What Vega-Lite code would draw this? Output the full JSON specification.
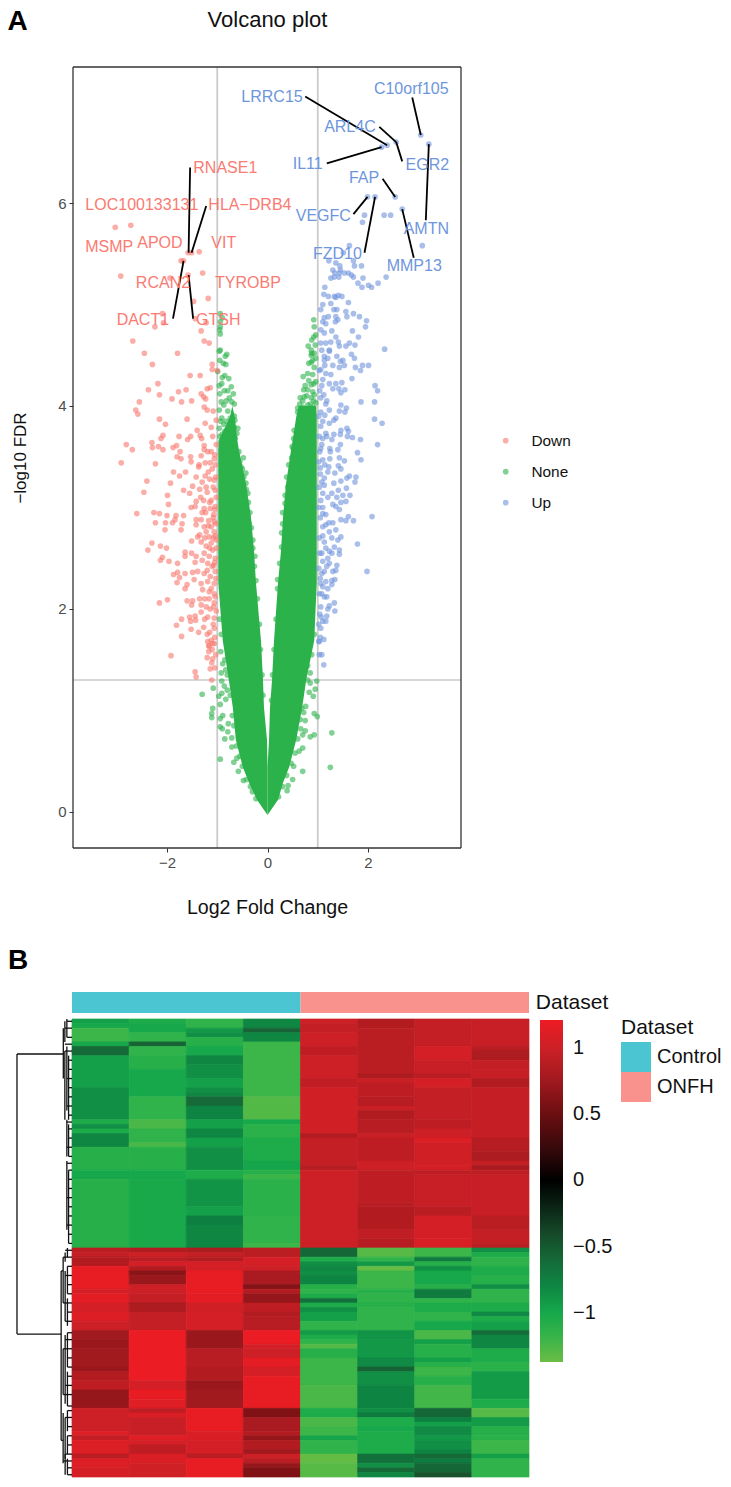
{"$schema":"https://vega.github.io/schema/vega-lite/v6.json","background":"white","padding":{"left":7,"top":8,"right":0,"bottom":0},"bounds":"flush","spacing":171,"config":{"font":"Liberation Sans","view":{"stroke":null},"legend":{"labelFont":"Liberation Sans","titleFont":"Liberation Sans"}},"datasets":{"core":[{"y":-0.03,"a":0,"b":0,"c":0,"d":0},{"y":0.12,"a":-0.21,"b":0,"c":0,"d":0.21},{"y":0.29,"a":-0.37,"b":0,"c":0,"d":0.31},{"y":0.44,"a":-0.49,"b":0,"c":0,"d":0.43},{"y":0.71,"a":-0.63,"b":-0.01,"c":0.03,"d":0.57},{"y":1.03,"a":-0.69,"b":-0.07,"c":0.05,"d":0.69},{"y":1.3,"a":-0.77,"b":-0.09,"c":0.09,"d":0.77},{"y":1.69,"a":-0.89,"b":-0.13,"c":0.13,"d":0.93},{"y":2.26,"a":-0.98,"b":-0.23,"c":0.21,"d":0.98},{"y":2.58,"a":-0.98,"b":-0.27,"c":0.27,"d":0.98},{"y":2.91,"a":-0.98,"b":-0.33,"c":0.31,"d":0.98},{"y":3.24,"a":-0.98,"b":-0.43,"c":0.37,"d":0.98},{"y":3.57,"a":-0.98,"b":-0.57,"c":0.47,"d":0.98},{"y":3.66,"a":-0.97,"b":-0.6,"c":0.5,"d":0.98},{"y":3.89,"a":-0.75,"b":-0.65,"c":0.57,"d":0.98},{"y":4.0,"a":-0.7,"b":-0.7,"c":0.62,"d":0.97}],"green":[{"x":-1.3,"y":1.16},{"x":-1.08,"y":1.22},{"x":-1.09,"y":1.02},{"x":-1.11,"y":0.97},{"x":-1.11,"y":0.93},{"x":-0.94,"y":1.06},{"x":-0.97,"y":1.14},{"x":-0.89,"y":0.95},{"x":-0.94,"y":0.92},{"x":-0.94,"y":0.84},{"x":-0.9,"y":0.82},{"x":-0.78,"y":0.87},{"x":-0.79,"y":0.79},{"x":-0.85,"y":0.72},{"x":-0.71,"y":0.73},{"x":-0.71,"y":0.64},{"x":-0.94,"y":0.52},{"x":-0.61,"y":0.53},{"x":-0.67,"y":0.49},{"x":-0.58,"y":0.4},{"x":-0.48,"y":0.31},{"x":-0.34,"y":0.25},{"x":-0.23,"y":0.13},{"x":1.28,"y":0.78},{"x":1.25,"y":0.44},{"x":0.93,"y":0.76},{"x":0.85,"y":0.74},{"x":0.75,"y":0.8},{"x":0.7,"y":0.76},{"x":0.7,"y":0.4},{"x":0.5,"y":0.32},{"x":0.41,"y":0.26},{"x":0.39,"y":0.21},{"x":0.95,"y":1.21},{"x":0.91,"y":1.14},{"x":0.76,"y":1.04},{"x":0.93,"y":0.97},{"x":0.99,"y":0.94},{"x":0.75,"y":0.9},{"x":0.65,"y":0.91},{"x":0.7,"y":0.63},{"x":0.63,"y":0.6},{"x":0.52,"y":0.45},{"x":0.98,"y":1.29},{"x":0.85,"y":1.27},{"x":0.85,"y":1.37},{"x":0.8,"y":1.44},{"x":-0.91,"y":1.29},{"x":-0.93,"y":1.58},{"x":-0.89,"y":1.46},{"x":-0.92,"y":1.37},{"x":-0.86,"y":1.24},{"x":-0.91,"y":1.17},{"x":-0.83,"y":1.11},{"x":-0.96,"y":4.54},{"x":-0.81,"y":4.51},{"x":-0.84,"y":4.49},{"x":-0.83,"y":4.41},{"x":-0.99,"y":4.34},{"x":-0.77,"y":4.27},{"x":-0.91,"y":4.22},{"x":-0.72,"y":4.19},{"x":-0.86,"y":4.15},{"x":-0.79,"y":4.15},{"x":-0.68,"y":4.12},{"x":-0.92,"y":4.04},{"x":-0.87,"y":4.01},{"x":-0.71,"y":4.04},{"x":-0.66,"y":4.02},{"x":-0.96,"y":3.96},{"x":-0.79,"y":3.95},{"x":-0.66,"y":3.9},{"x":-0.91,"y":3.88},{"x":-0.87,"y":3.82},{"x":-0.65,"y":3.86},{"x":-0.66,"y":3.79},{"x":-0.59,"y":3.78},{"x":-0.96,"y":3.78},{"x":-0.83,"y":3.71},{"x":-0.73,"y":3.74},{"x":-0.61,"y":3.73},{"x":-0.92,"y":3.65},{"x":-0.79,"y":3.67},{"x":-0.66,"y":3.63},{"x":-0.57,"y":3.55},{"x":-0.48,"y":3.49},{"x":-0.86,"y":3.57},{"x":-0.73,"y":3.57},{"x":-0.59,"y":3.47},{"x":-0.53,"y":3.4},{"x":-0.43,"y":3.34},{"x":-0.43,"y":3.24},{"x":-0.39,"y":3.14},{"x":-0.36,"y":2.84},{"x":-0.29,"y":2.68},{"x":-0.25,"y":2.52},{"x":-0.94,"y":4.91},{"x":-0.94,"y":4.83},{"x":-0.95,"y":4.75},{"x":-0.94,"y":4.71},{"x":-0.94,"y":4.55},{"x":-0.9,"y":4.87},{"x":-0.94,"y":4.78},{"x":0.93,"y":4.78},{"x":0.92,"y":4.68},{"x":0.81,"y":4.59},{"x":0.87,"y":4.55},{"x":0.93,"y":4.52},{"x":0.87,"y":4.5},{"x":0.96,"y":4.7},{"x":0.96,"y":4.47},{"x":0.88,"y":4.52},{"x":0.87,"y":4.43},{"x":0.93,"y":4.38},{"x":0.71,"y":4.29},{"x":0.8,"y":4.32},{"x":0.9,"y":4.31},{"x":0.96,"y":4.24},{"x":0.87,"y":4.21},{"x":0.72,"y":4.16},{"x":0.8,"y":4.16},{"x":0.9,"y":4.14},{"x":0.65,"y":4.08},{"x":0.73,"y":4.09},{"x":0.87,"y":4.08},{"x":0.93,"y":4.11},{"x":0.7,"y":3.99},{"x":0.67,"y":3.96},{"x":0.6,"y":3.94},{"x":0.8,"y":4.01},{"x":0.9,"y":3.99},{"x":0.96,"y":4.03},{"x":0.73,"y":3.93},{"x":0.87,"y":3.93},{"x":0.53,"y":3.76},{"x":0.51,"y":3.58},{"x":0.48,"y":3.49},{"x":0.4,"y":3.2},{"x":0.35,"y":3.04},{"x":0.3,"y":2.84},{"x":0.28,"y":2.61},{"x":0.2,"y":2.29},{"x":-0.95,"y":3.7},{"x":-0.9,"y":3.72},{"x":-0.85,"y":3.75},{"x":-0.78,"y":3.78},{"x":-0.7,"y":3.7},{"x":-0.64,"y":3.68},{"x":-0.93,"y":3.85},{"x":-0.82,"y":3.85},{"x":-0.74,"y":3.88},{"x":-0.95,"y":4.12},{"x":-0.82,"y":4.05},{"x":-0.76,"y":4.08},{"x":-0.9,"y":4.28},{"x":-0.85,"y":4.3},{"x":-0.95,"y":4.45},{"x":-0.88,"y":4.42},{"x":-0.96,"y":4.2},{"x":-0.55,"y":3.45},{"x":-0.5,"y":3.38},{"x":-0.47,"y":3.3},{"x":-0.42,"y":3.18},{"x":-0.38,"y":3.05},{"x":-0.35,"y":2.95},{"x":-0.32,"y":2.8},{"x":-0.29,"y":2.6},{"x":-0.26,"y":2.42},{"x":-0.23,"y":2.28},{"x":-0.2,"y":2.1},{"x":-0.16,"y":1.85},{"x":-0.14,"y":1.6},{"x":-0.11,"y":1.35},{"x":-0.09,"y":1.15},{"x":0.52,"y":3.68},{"x":0.49,"y":3.6},{"x":0.42,"y":3.42},{"x":0.38,"y":3.3},{"x":0.35,"y":3.12},{"x":0.3,"y":2.95},{"x":0.28,"y":2.75},{"x":0.24,"y":2.45},{"x":0.2,"y":2.2},{"x":0.17,"y":1.9},{"x":0.13,"y":1.6},{"x":0.1,"y":1.35},{"x":0.08,"y":1.1},{"x":0.6,"y":3.98},{"x":0.64,"y":4.02},{"x":0.7,"y":4.05},{"x":0.78,"y":4.1},{"x":0.85,"y":4.02},{"x":0.92,"y":4.05},{"x":0.75,"y":4.2},{"x":0.82,"y":4.25},{"x":0.92,"y":4.22},{"x":0.82,"y":4.42},{"x":0.9,"y":4.45},{"x":0.95,"y":4.6},{"x":0.88,"y":4.65},{"x":0.92,"y":4.85},{"x":-0.92,"y":1.75},{"x":-0.95,"y":1.9},{"x":-0.85,"y":1.5},{"x":-0.8,"y":1.35},{"x":-0.74,"y":1.15},{"x":-0.7,"y":0.95},{"x":-0.67,"y":0.85},{"x":-0.62,"y":0.65},{"x":-0.55,"y":0.55},{"x":-0.5,"y":0.45},{"x":-0.42,"y":0.32},{"x":-0.3,"y":0.2},{"x":-0.8,"y":1.2},{"x":-0.83,"y":1.4},{"x":0.93,"y":1.75},{"x":0.88,"y":1.55},{"x":0.8,"y":1.3},{"x":0.72,"y":0.98},{"x":0.66,"y":0.82},{"x":0.6,"y":0.72},{"x":0.55,"y":0.58},{"x":0.47,"y":0.48},{"x":0.38,"y":0.36},{"x":0.3,"y":0.25},{"x":0.22,"y":0.15},{"x":0.83,"y":1.18},{"x":0.68,"y":1.02}],"red":[{"x":-3.03,"y":5.76},{"x":-2.72,"y":5.78},{"x":-2.92,"y":5.28},{"x":-1.36,"y":5.52},{"x":-1.58,"y":5.51},{"x":-1.51,"y":5.51},{"x":-1.72,"y":5.43},{"x":-1.67,"y":5.43},{"x":-1.29,"y":5.31},{"x":-1.58,"y":5.29},{"x":-1.94,"y":5.26},{"x":-1.47,"y":5.03},{"x":-1.18,"y":5.06},{"x":-2.09,"y":4.91},{"x":-2.07,"y":4.82},{"x":-2.24,"y":4.78},{"x":-1.44,"y":4.86},{"x":-1.22,"y":4.82},{"x":-1.32,"y":4.74},{"x":-1.26,"y":4.64},{"x":-1.16,"y":4.62},{"x":-2.68,"y":4.64},{"x":-2.45,"y":4.52},{"x":-1.79,"y":4.52},{"x":-2.29,"y":4.41},{"x":-1.1,"y":4.41},{"x":-1.1,"y":4.36},{"x":-1.54,"y":4.3},{"x":-1.34,"y":4.3},{"x":-1.0,"y":4.35},{"x":-2.18,"y":4.22},{"x":-2.37,"y":4.16},{"x":-2.15,"y":4.11},{"x":-1.62,"y":4.16},{"x":-1.77,"y":4.14},{"x":-1.9,"y":4.07},{"x":-1.71,"y":4.04},{"x":-1.51,"y":4.05},{"x":-1.2,"y":4.17},{"x":-1.14,"y":4.18},{"x":-1.32,"y":4.12},{"x":-1.27,"y":4.09},{"x":-1.23,"y":4.07},{"x":-2.55,"y":4.04},{"x":-2.62,"y":3.96},{"x":-2.58,"y":3.92},{"x":-1.26,"y":3.99},{"x":-1.2,"y":3.96},{"x":-2.15,"y":3.87},{"x":-2.03,"y":3.82},{"x":-1.6,"y":3.87},{"x":-1.24,"y":3.83},{"x":-1.02,"y":3.86},{"x":-1.12,"y":3.79},{"x":-1.4,"y":3.76},{"x":-1.34,"y":3.71},{"x":-1.76,"y":3.7},{"x":-2.08,"y":3.71},{"x":-2.12,"y":3.68},{"x":-1.53,"y":3.7},{"x":-1.59,"y":3.67},{"x":-1.31,"y":3.68},{"x":-1.09,"y":3.7},{"x":-2.81,"y":3.62},{"x":-2.69,"y":3.57},{"x":-2.3,"y":3.64},{"x":-2.29,"y":3.59},{"x":-2.17,"y":3.6},{"x":-2.08,"y":3.57},{"x":-1.88,"y":3.59},{"x":-1.81,"y":3.61},{"x":-1.74,"y":3.55},{"x":-1.26,"y":3.61},{"x":-1.26,"y":3.57},{"x":-1.19,"y":3.55},{"x":-1.02,"y":3.62},{"x":-1.8,"y":3.5},{"x":-1.72,"y":3.48},{"x":-1.53,"y":3.5},{"x":-1.52,"y":3.45},{"x":-1.32,"y":3.51},{"x":-2.91,"y":3.44},{"x":-2.23,"y":3.43},{"x":-1.36,"y":3.42},{"x":-1.37,"y":3.4},{"x":-1.24,"y":3.44},{"x":-1.14,"y":3.44},{"x":-1.06,"y":3.48},{"x":-1.04,"y":3.42},{"x":-1.63,"y":3.35},{"x":-1.87,"y":3.35},{"x":-1.75,"y":3.31},{"x":-1.42,"y":3.3},{"x":-1.24,"y":3.31},{"x":-1.18,"y":3.35},{"x":-1.06,"y":3.27},{"x":-2.4,"y":3.26},{"x":-1.93,"y":3.24},{"x":-2.46,"y":3.15},{"x":-1.67,"y":3.17},{"x":-1.49,"y":3.21},{"x":-1.55,"y":3.14},{"x":-1.35,"y":3.18},{"x":-1.22,"y":3.2},{"x":-1.2,"y":3.15},{"x":-1.04,"y":3.17},{"x":-1.99,"y":3.12},{"x":-1.33,"y":3.1},{"x":-1.12,"y":3.07},{"x":-1.27,"y":3.07},{"x":-1.42,"y":3.06},{"x":-1.97,"y":3.03},{"x":-1.52,"y":3.0},{"x":-1.44,"y":3.01},{"x":-1.26,"y":2.99},{"x":-1.14,"y":2.99},{"x":-1.04,"y":3.01},{"x":-2.6,"y":2.94},{"x":-2.26,"y":2.95},{"x":-2.15,"y":2.94},{"x":-2.0,"y":2.92},{"x":-1.82,"y":2.92},{"x":-1.67,"y":2.92},{"x":-1.23,"y":2.95},{"x":-1.07,"y":2.93},{"x":-1.84,"y":2.88},{"x":-2.23,"y":2.85},{"x":-2.03,"y":2.85},{"x":-1.89,"y":2.85},{"x":-1.7,"y":2.84},{"x":-1.42,"y":2.88},{"x":-1.32,"y":2.88},{"x":-1.17,"y":2.87},{"x":-1.06,"y":2.86},{"x":-1.42,"y":2.83},{"x":-1.26,"y":2.81},{"x":-1.12,"y":2.81},{"x":-2.04,"y":2.78},{"x":-1.72,"y":2.78},{"x":-1.35,"y":2.73},{"x":-1.22,"y":2.76},{"x":-1.06,"y":2.76},{"x":-1.16,"y":2.71},{"x":-1.51,"y":2.67},{"x":-1.39,"y":2.71},{"x":-2.3,"y":2.65},{"x":-1.32,"y":2.66},{"x":-1.12,"y":2.65},{"x":-1.02,"y":2.68},{"x":-2.13,"y":2.62},{"x":-2.01,"y":2.6},{"x":-2.38,"y":2.58},{"x":-1.22,"y":2.62},{"x":-1.09,"y":2.58},{"x":-1.64,"y":2.56},{"x":-1.51,"y":2.55},{"x":-1.42,"y":2.52},{"x":-1.26,"y":2.55},{"x":-1.64,"y":2.52},{"x":-1.16,"y":2.52},{"x":-1.04,"y":2.5},{"x":-2.09,"y":2.51},{"x":-2.13,"y":2.48},{"x":-1.96,"y":2.47},{"x":-1.79,"y":2.45},{"x":-1.44,"y":2.46},{"x":-1.19,"y":2.45},{"x":-1.07,"y":2.43},{"x":-1.87,"y":2.34},{"x":-1.79,"y":2.36},{"x":-1.64,"y":2.35},{"x":-1.75,"y":2.31},{"x":-1.49,"y":2.36},{"x":-1.39,"y":2.37},{"x":-1.26,"y":2.35},{"x":-1.14,"y":2.32},{"x":-1.04,"y":2.37},{"x":-1.8,"y":2.26},{"x":-1.46,"y":2.29},{"x":-1.32,"y":2.25},{"x":-1.19,"y":2.27},{"x":-1.06,"y":2.25},{"x":-1.6,"y":2.24},{"x":-1.64,"y":2.2},{"x":-1.29,"y":2.19},{"x":-1.16,"y":2.17},{"x":-1.06,"y":2.15},{"x":-1.6,"y":2.08},{"x":-2.15,"y":2.06},{"x":-1.99,"y":2.09},{"x":-1.49,"y":2.08},{"x":-1.35,"y":2.1},{"x":-1.51,"y":2.04},{"x":-1.32,"y":2.04},{"x":-1.16,"y":2.1},{"x":-1.06,"y":2.06},{"x":-1.22,"y":2.02},{"x":-1.71,"y":1.9},{"x":-1.55,"y":1.92},{"x":-1.44,"y":1.93},{"x":-1.53,"y":1.88},{"x":-1.43,"y":1.89},{"x":-1.32,"y":1.97},{"x":-1.19,"y":1.92},{"x":-1.06,"y":1.91},{"x":-1.81,"y":1.84},{"x":-1.52,"y":1.8},{"x":-1.27,"y":1.82},{"x":-1.37,"y":1.77},{"x":-1.15,"y":1.77},{"x":-1.06,"y":1.81},{"x":-1.71,"y":1.73},{"x":-1.12,"y":1.69},{"x":-1.17,"y":1.64},{"x":-1.06,"y":1.66},{"x":-1.19,"y":1.68},{"x":-1.09,"y":1.66},{"x":-1.16,"y":1.63},{"x":-1.17,"y":1.58},{"x":-1.09,"y":1.51},{"x":-1.11,"y":1.47},{"x":-1.14,"y":1.41},{"x":-1.44,"y":1.38},{"x":-1.42,"y":1.33},{"x":-1.11,"y":1.3},{"x":-1.92,"y":1.54},{"x":-1.03,"y":1.55},{"x":-1.05,"y":1.72},{"x":-1.02,"y":1.98},{"x":-1.04,"y":2.12},{"x":-1.03,"y":2.3},{"x":-1.05,"y":2.46},{"x":-1.02,"y":2.6},{"x":-1.04,"y":2.72},{"x":-1.03,"y":2.84},{"x":-1.05,"y":2.98},{"x":-1.02,"y":3.1},{"x":-1.03,"y":3.3},{"x":-1.05,"y":3.52},{"x":-1.1,"y":1.6},{"x":-1.2,"y":1.75},{"x":-1.08,"y":1.85},{"x":-1.25,"y":1.9},{"x":-1.14,"y":2.0},{"x":-1.25,"y":2.1},{"x":-1.12,"y":2.2},{"x":-1.2,"y":2.38},{"x":-1.1,"y":2.42},{"x":-1.3,"y":2.48},{"x":-1.15,"y":2.6},{"x":-1.25,"y":2.7},{"x":-1.08,"y":2.7},{"x":-1.18,"y":2.82},{"x":-1.3,"y":2.95},{"x":-1.08,"y":2.9},{"x":-1.15,"y":3.05},{"x":-1.08,"y":3.2},{"x":-1.15,"y":3.28},{"x":-1.3,"y":3.25},{"x":-1.1,"y":3.38},{"x":-1.12,"y":3.55},{"x":-1.08,"y":3.95},{"x":-1.07,"y":2.02},{"x":-1.2,"y":1.52},{"x":-1.05,"y":1.42}],"blue":[{"x":3.05,"y":6.67},{"x":3.21,"y":6.58},{"x":2.56,"y":6.6},{"x":2.38,"y":6.57},{"x":2.27,"y":6.55},{"x":2.54,"y":6.06},{"x":1.99,"y":6.06},{"x":2.14,"y":6.06},{"x":2.68,"y":5.94},{"x":1.93,"y":5.88},{"x":1.89,"y":5.81},{"x":2.32,"y":5.88},{"x":2.45,"y":5.88},{"x":3.08,"y":5.58},{"x":1.63,"y":5.58},{"x":1.51,"y":5.51},{"x":1.22,"y":5.43},{"x":1.71,"y":5.43},{"x":1.73,"y":5.38},{"x":1.87,"y":5.38},{"x":1.36,"y":5.41},{"x":1.44,"y":5.38},{"x":1.45,"y":5.34},{"x":1.3,"y":5.34},{"x":1.34,"y":5.31},{"x":1.43,"y":5.31},{"x":1.53,"y":5.31},{"x":1.61,"y":5.31},{"x":1.67,"y":5.29},{"x":1.71,"y":5.27},{"x":1.26,"y":5.26},{"x":1.33,"y":5.27},{"x":1.42,"y":5.27},{"x":1.9,"y":5.26},{"x":2.36,"y":5.27},{"x":2.2,"y":5.21},{"x":1.8,"y":5.21},{"x":1.88,"y":5.17},{"x":2.01,"y":5.19},{"x":2.07,"y":5.17},{"x":1.14,"y":5.17},{"x":1.12,"y":5.1},{"x":1.21,"y":5.08},{"x":1.33,"y":5.08},{"x":1.41,"y":5.09},{"x":1.48,"y":5.08},{"x":1.36,"y":5.07},{"x":1.61,"y":5.02},{"x":1.26,"y":5.01},{"x":1.32,"y":4.95},{"x":1.38,"y":4.95},{"x":1.56,"y":4.93},{"x":1.71,"y":4.91},{"x":1.83,"y":4.88},{"x":1.58,"y":4.88},{"x":1.97,"y":4.84},{"x":1.95,"y":4.78},{"x":1.13,"y":4.87},{"x":1.21,"y":4.88},{"x":1.36,"y":4.88},{"x":1.4,"y":4.85},{"x":1.35,"y":4.83},{"x":1.1,"y":4.83},{"x":1.16,"y":4.81},{"x":1.69,"y":4.74},{"x":1.81,"y":4.68},{"x":1.06,"y":4.75},{"x":1.13,"y":4.72},{"x":1.28,"y":4.74},{"x":1.36,"y":4.68},{"x":1.41,"y":4.63},{"x":1.43,"y":4.59},{"x":1.26,"y":4.63},{"x":1.16,"y":4.62},{"x":1.06,"y":4.62},{"x":1.56,"y":4.59},{"x":1.63,"y":4.62},{"x":1.74,"y":4.6},{"x":2.33,"y":4.56},{"x":1.23,"y":4.55},{"x":1.38,"y":4.49},{"x":1.67,"y":4.51},{"x":1.73,"y":4.47},{"x":1.13,"y":4.49},{"x":1.5,"y":4.45},{"x":1.23,"y":4.54},{"x":1.13,"y":4.45},{"x":1.2,"y":4.47},{"x":1.3,"y":4.4},{"x":1.45,"y":4.44},{"x":1.53,"y":4.4},{"x":1.43,"y":4.38},{"x":1.75,"y":4.38},{"x":1.89,"y":4.4},{"x":2.01,"y":4.4},{"x":1.85,"y":4.35},{"x":1.06,"y":4.36},{"x":1.16,"y":4.32},{"x":1.26,"y":4.31},{"x":1.1,"y":4.26},{"x":1.68,"y":4.27},{"x":1.23,"y":4.22},{"x":1.36,"y":4.22},{"x":1.48,"y":4.23},{"x":2.14,"y":4.2},{"x":2.19,"y":4.15},{"x":1.3,"y":4.17},{"x":1.42,"y":4.17},{"x":1.54,"y":4.16},{"x":1.46,"y":4.13},{"x":1.12,"y":4.11},{"x":1.06,"y":4.08},{"x":1.86,"y":4.04},{"x":2.13,"y":4.04},{"x":1.16,"y":4.02},{"x":1.46,"y":4.01},{"x":1.57,"y":3.98},{"x":1.23,"y":3.96},{"x":1.43,"y":3.95},{"x":1.54,"y":3.94},{"x":1.06,"y":3.94},{"x":1.14,"y":3.91},{"x":1.36,"y":3.88},{"x":1.32,"y":3.86},{"x":1.23,"y":3.83},{"x":2.13,"y":3.87},{"x":2.28,"y":3.83},{"x":1.06,"y":3.8},{"x":1.46,"y":3.76},{"x":1.58,"y":3.78},{"x":1.61,"y":3.75},{"x":1.32,"y":3.72},{"x":1.45,"y":3.72},{"x":1.16,"y":3.73},{"x":1.1,"y":3.68},{"x":1.59,"y":3.7},{"x":1.69,"y":3.69},{"x":1.28,"y":3.67},{"x":1.85,"y":3.67},{"x":1.45,"y":3.62},{"x":2.19,"y":3.62},{"x":1.06,"y":3.58},{"x":1.24,"y":3.58},{"x":1.4,"y":3.57},{"x":1.25,"y":3.55},{"x":1.79,"y":3.54},{"x":1.43,"y":3.49},{"x":1.53,"y":3.46},{"x":1.86,"y":3.47},{"x":1.1,"y":3.47},{"x":1.24,"y":3.48},{"x":1.41,"y":3.41},{"x":1.46,"y":3.38},{"x":1.22,"y":3.4},{"x":1.05,"y":3.39},{"x":1.2,"y":3.35},{"x":1.34,"y":3.34},{"x":1.63,"y":3.31},{"x":1.76,"y":3.3},{"x":1.58,"y":3.29},{"x":1.13,"y":3.29},{"x":1.46,"y":3.26},{"x":1.74,"y":3.25},{"x":1.32,"y":3.24},{"x":1.13,"y":3.22},{"x":1.57,"y":3.19},{"x":1.41,"y":3.17},{"x":1.28,"y":3.14},{"x":1.64,"y":3.12},{"x":1.5,"y":3.12},{"x":1.1,"y":3.14},{"x":1.38,"y":3.1},{"x":1.56,"y":3.06},{"x":1.46,"y":3.05},{"x":1.3,"y":3.03},{"x":1.06,"y":3.07},{"x":1.43,"y":2.98},{"x":1.36,"y":3.01},{"x":1.16,"y":2.93},{"x":1.1,"y":2.94},{"x":2.08,"y":2.91},{"x":1.61,"y":2.91},{"x":1.46,"y":2.88},{"x":1.56,"y":2.87},{"x":1.71,"y":2.87},{"x":1.3,"y":2.85},{"x":1.16,"y":2.83},{"x":1.1,"y":2.81},{"x":1.36,"y":2.78},{"x":1.23,"y":2.76},{"x":1.46,"y":2.71},{"x":1.4,"y":2.68},{"x":1.28,"y":2.7},{"x":1.13,"y":2.66},{"x":1.79,"y":2.64},{"x":1.33,"y":2.61},{"x":1.16,"y":2.6},{"x":1.43,"y":2.58},{"x":1.23,"y":2.57},{"x":1.43,"y":2.54},{"x":1.2,"y":2.5},{"x":1.1,"y":2.47},{"x":1.38,"y":2.43},{"x":1.23,"y":2.45},{"x":1.3,"y":2.37},{"x":1.98,"y":2.37},{"x":1.36,"y":2.38},{"x":1.13,"y":2.37},{"x":1.34,"y":2.29},{"x":1.28,"y":2.28},{"x":1.16,"y":2.27},{"x":1.06,"y":2.25},{"x":1.28,"y":2.24},{"x":1.1,"y":2.22},{"x":1.13,"y":2.12},{"x":1.18,"y":2.12},{"x":1.33,"y":2.06},{"x":1.23,"y":2.03},{"x":1.06,"y":2.02},{"x":1.34,"y":1.98},{"x":1.18,"y":1.93},{"x":1.1,"y":1.88},{"x":1.16,"y":1.88},{"x":1.06,"y":1.81},{"x":1.03,"y":1.68},{"x":1.12,"y":1.45},{"x":1.02,"y":1.68},{"x":1.03,"y":1.55},{"x":1.05,"y":1.72},{"x":1.02,"y":1.85},{"x":1.04,"y":1.95},{"x":1.03,"y":2.15},{"x":1.05,"y":2.3},{"x":1.02,"y":2.4},{"x":1.04,"y":2.55},{"x":1.03,"y":2.7},{"x":1.05,"y":2.9},{"x":1.02,"y":3.0},{"x":1.03,"y":3.2},{"x":1.05,"y":3.33},{"x":1.02,"y":3.45},{"x":1.04,"y":3.55},{"x":1.03,"y":3.7},{"x":1.02,"y":3.9},{"x":1.04,"y":4.15},{"x":1.03,"y":4.35},{"x":1.08,"y":1.55},{"x":1.12,"y":1.7},{"x":1.07,"y":1.92},{"x":1.2,"y":2.0},{"x":1.08,"y":2.15},{"x":1.2,"y":2.2},{"x":1.08,"y":2.35},{"x":1.18,"y":2.42},{"x":1.08,"y":2.55},{"x":1.28,"y":2.55},{"x":1.1,"y":2.72},{"x":1.22,"y":2.85},{"x":1.1,"y":3.0},{"x":1.2,"y":3.1},{"x":1.08,"y":3.25},{"x":1.14,"y":3.42},{"x":1.08,"y":3.62},{"x":1.18,"y":3.7},{"x":1.1,"y":3.85},{"x":1.18,"y":4.05},{"x":1.08,"y":4.2},{"x":1.14,"y":4.4},{"x":1.08,"y":4.55},{"x":1.06,"y":4.95},{"x":1.1,"y":5.0}],"heat":[{"c":0,"d":1,"r":0,"e":1,"v":-0.95},{"c":0,"d":1,"r":1,"e":2,"v":-1.0},{"c":0,"d":1,"r":2,"e":5,"v":-1.2},{"c":0,"d":1,"r":5,"e":6,"v":-1.0},{"c":0,"d":1,"r":6,"e":8,"v":-0.6},{"c":0,"d":1,"r":8,"e":15,"v":-0.95},{"c":0,"d":1,"r":15,"e":22,"v":-0.85},{"c":0,"d":1,"r":22,"e":23,"v":-1.05},{"c":0,"d":1,"r":23,"e":24,"v":-0.85},{"c":0,"d":1,"r":24,"e":25,"v":-1.05},{"c":0,"d":1,"r":25,"e":28,"v":-0.8},{"c":0,"d":1,"r":28,"e":33,"v":-1.1},{"c":0,"d":1,"r":33,"e":35,"v":-1.0},{"c":0,"d":1,"r":35,"e":50,"v":-1.1},{"c":1,"d":2,"r":0,"e":1,"v":-1.05},{"c":1,"d":2,"r":1,"e":3,"v":-1.0},{"c":1,"d":2,"r":3,"e":5,"v":-1.15},{"c":1,"d":2,"r":5,"e":6,"v":-0.55},{"c":1,"d":2,"r":6,"e":8,"v":-1.15},{"c":1,"d":2,"r":8,"e":11,"v":-1.1},{"c":1,"d":2,"r":11,"e":17,"v":-1.0},{"c":1,"d":2,"r":17,"e":22,"v":-1.15},{"c":1,"d":2,"r":22,"e":24,"v":-1.25},{"c":1,"d":2,"r":24,"e":27,"v":-1.15},{"c":1,"d":2,"r":27,"e":28,"v":-1.25},{"c":1,"d":2,"r":28,"e":33,"v":-1.1},{"c":1,"d":2,"r":33,"e":35,"v":-1.0},{"c":1,"d":2,"r":35,"e":50,"v":-1.02},{"c":2,"d":3,"r":0,"e":2,"v":-1.15},{"c":2,"d":3,"r":2,"e":3,"v":-0.9},{"c":2,"d":3,"r":3,"e":4,"v":-0.85},{"c":2,"d":3,"r":4,"e":6,"v":-1.1},{"c":2,"d":3,"r":6,"e":8,"v":-1.0},{"c":2,"d":3,"r":8,"e":10,"v":-0.8},{"c":2,"d":3,"r":10,"e":13,"v":-0.85},{"c":2,"d":3,"r":13,"e":15,"v":-0.95},{"c":2,"d":3,"r":15,"e":16,"v":-0.85},{"c":2,"d":3,"r":16,"e":17,"v":-0.8},{"c":2,"d":3,"r":17,"e":19,"v":-0.6},{"c":2,"d":3,"r":19,"e":22,"v":-0.78},{"c":2,"d":3,"r":22,"e":24,"v":-0.95},{"c":2,"d":3,"r":24,"e":26,"v":-0.8},{"c":2,"d":3,"r":26,"e":28,"v":-0.95},{"c":2,"d":3,"r":28,"e":33,"v":-0.85},{"c":2,"d":3,"r":33,"e":35,"v":-1.05},{"c":2,"d":3,"r":35,"e":41,"v":-0.88},{"c":2,"d":3,"r":41,"e":43,"v":-0.95},{"c":2,"d":3,"r":43,"e":45,"v":-0.75},{"c":2,"d":3,"r":45,"e":50,"v":-0.8},{"c":3,"d":4,"r":0,"e":2,"v":-0.8},{"c":3,"d":4,"r":2,"e":3,"v":-0.55},{"c":3,"d":4,"r":3,"e":5,"v":-0.8},{"c":3,"d":4,"r":5,"e":17,"v":-1.2},{"c":3,"d":4,"r":17,"e":22,"v":-1.28},{"c":3,"d":4,"r":22,"e":23,"v":-1.0},{"c":3,"d":4,"r":23,"e":26,"v":-1.12},{"c":3,"d":4,"r":26,"e":31,"v":-1.05},{"c":3,"d":4,"r":31,"e":33,"v":-0.98},{"c":3,"d":4,"r":33,"e":34,"v":-1.1},{"c":3,"d":4,"r":34,"e":35,"v":-1.2},{"c":3,"d":4,"r":35,"e":43,"v":-1.12},{"c":3,"d":4,"r":43,"e":49,"v":-1.15},{"c":3,"d":4,"r":49,"e":50,"v":-1.2},{"c":4,"d":5,"r":0,"e":1,"v":1.0},{"c":4,"d":5,"r":1,"e":3,"v":0.95},{"c":4,"d":5,"r":3,"e":6,"v":1.0},{"c":4,"d":5,"r":6,"e":8,"v":0.92},{"c":4,"d":5,"r":8,"e":13,"v":1.0},{"c":4,"d":5,"r":13,"e":15,"v":0.93},{"c":4,"d":5,"r":15,"e":25,"v":1.03},{"c":4,"d":5,"r":25,"e":26,"v":0.85},{"c":4,"d":5,"r":26,"e":32,"v":0.95},{"c":4,"d":5,"r":32,"e":33,"v":0.88},{"c":4,"d":5,"r":33,"e":50,"v":1.0},{"c":5,"d":6,"r":0,"e":2,"v":0.85},{"c":5,"d":6,"r":2,"e":12,"v":0.9},{"c":5,"d":6,"r":12,"e":13,"v":0.82},{"c":5,"d":6,"r":13,"e":14,"v":0.98},{"c":5,"d":6,"r":14,"e":17,"v":0.92},{"c":5,"d":6,"r":17,"e":19,"v":0.88},{"c":5,"d":6,"r":19,"e":20,"v":0.98},{"c":5,"d":6,"r":20,"e":22,"v":0.85},{"c":5,"d":6,"r":22,"e":25,"v":0.88},{"c":5,"d":6,"r":25,"e":26,"v":0.98},{"c":5,"d":6,"r":26,"e":31,"v":0.92},{"c":5,"d":6,"r":31,"e":33,"v":1.0},{"c":5,"d":6,"r":33,"e":40,"v":0.92},{"c":5,"d":6,"r":40,"e":41,"v":0.88},{"c":5,"d":6,"r":41,"e":46,"v":0.85},{"c":5,"d":6,"r":46,"e":48,"v":0.93},{"c":5,"d":6,"r":48,"e":50,"v":0.88},{"c":6,"d":7,"r":0,"e":6,"v":0.95},{"c":6,"d":7,"r":6,"e":9,"v":1.05},{"c":6,"d":7,"r":9,"e":12,"v":0.97},{"c":6,"d":7,"r":12,"e":13,"v":0.9},{"c":6,"d":7,"r":13,"e":15,"v":1.05},{"c":6,"d":7,"r":15,"e":22,"v":0.95},{"c":6,"d":7,"r":22,"e":24,"v":0.92},{"c":6,"d":7,"r":24,"e":26,"v":1.0},{"c":6,"d":7,"r":26,"e":27,"v":1.1},{"c":6,"d":7,"r":27,"e":32,"v":1.03},{"c":6,"d":7,"r":32,"e":33,"v":1.05},{"c":6,"d":7,"r":33,"e":34,"v":0.92},{"c":6,"d":7,"r":34,"e":41,"v":0.97},{"c":6,"d":7,"r":41,"e":43,"v":0.9},{"c":6,"d":7,"r":43,"e":48,"v":1.05},{"c":6,"d":7,"r":48,"e":50,"v":1.08},{"c":7,"d":8,"r":0,"e":6,"v":0.97},{"c":7,"d":8,"r":6,"e":7,"v":0.88},{"c":7,"d":8,"r":7,"e":9,"v":0.82},{"c":7,"d":8,"r":9,"e":11,"v":0.95},{"c":7,"d":8,"r":11,"e":13,"v":0.97},{"c":7,"d":8,"r":13,"e":15,"v":0.85},{"c":7,"d":8,"r":15,"e":26,"v":0.96},{"c":7,"d":8,"r":26,"e":29,"v":0.87},{"c":7,"d":8,"r":29,"e":31,"v":0.82},{"c":7,"d":8,"r":31,"e":32,"v":0.95},{"c":7,"d":8,"r":32,"e":33,"v":0.8},{"c":7,"d":8,"r":33,"e":34,"v":0.92},{"c":7,"d":8,"r":34,"e":43,"v":0.97},{"c":7,"d":8,"r":43,"e":46,"v":0.9},{"c":7,"d":8,"r":46,"e":49,"v":0.95},{"c":7,"d":8,"r":49,"e":50,"v":0.9},{"c":0,"d":1,"r":50,"e":51,"v":0.9},{"c":0,"d":1,"r":51,"e":52,"v":0.95},{"c":0,"d":1,"r":52,"e":54,"v":0.85},{"c":0,"d":1,"r":54,"e":59,"v":1.18},{"c":0,"d":1,"r":59,"e":60,"v":1.05},{"c":0,"d":1,"r":60,"e":62,"v":1.15},{"c":0,"d":1,"r":62,"e":64,"v":1.05},{"c":0,"d":1,"r":64,"e":66,"v":1.1},{"c":0,"d":1,"r":66,"e":68,"v":1.0},{"c":0,"d":1,"r":68,"e":70,"v":0.75},{"c":0,"d":1,"r":70,"e":72,"v":0.72},{"c":0,"d":1,"r":72,"e":76,"v":0.75},{"c":0,"d":1,"r":76,"e":77,"v":0.72},{"c":0,"d":1,"r":77,"e":79,"v":0.85},{"c":0,"d":1,"r":79,"e":81,"v":0.92},{"c":0,"d":1,"r":81,"e":85,"v":0.7},{"c":0,"d":1,"r":85,"e":90,"v":1.0},{"c":0,"d":1,"r":90,"e":91,"v":1.1},{"c":0,"d":1,"r":91,"e":92,"v":0.95},{"c":0,"d":1,"r":92,"e":95,"v":1.1},{"c":0,"d":1,"r":95,"e":96,"v":0.9},{"c":0,"d":1,"r":96,"e":98,"v":1.1},{"c":0,"d":1,"r":98,"e":100,"v":1.05},{"c":1,"d":2,"r":50,"e":51,"v":0.85},{"c":1,"d":2,"r":51,"e":52,"v":1.0},{"c":1,"d":2,"r":52,"e":53,"v":0.9},{"c":1,"d":2,"r":53,"e":54,"v":1.05},{"c":1,"d":2,"r":54,"e":55,"v":0.85},{"c":1,"d":2,"r":55,"e":56,"v":0.65},{"c":1,"d":2,"r":56,"e":58,"v":0.72},{"c":1,"d":2,"r":58,"e":60,"v":1.0},{"c":1,"d":2,"r":60,"e":62,"v":0.95},{"c":1,"d":2,"r":62,"e":64,"v":0.82},{"c":1,"d":2,"r":64,"e":68,"v":0.95},{"c":1,"d":2,"r":68,"e":79,"v":1.2},{"c":1,"d":2,"r":79,"e":81,"v":1.05},{"c":1,"d":2,"r":81,"e":83,"v":1.18},{"c":1,"d":2,"r":83,"e":85,"v":1.12},{"c":1,"d":2,"r":85,"e":86,"v":0.92},{"c":1,"d":2,"r":86,"e":87,"v":1.08},{"c":1,"d":2,"r":87,"e":91,"v":0.97},{"c":1,"d":2,"r":91,"e":92,"v":1.12},{"c":1,"d":2,"r":92,"e":93,"v":1.05},{"c":1,"d":2,"r":93,"e":95,"v":0.92},{"c":1,"d":2,"r":95,"e":97,"v":1.08},{"c":1,"d":2,"r":97,"e":100,"v":1.02},{"c":2,"d":3,"r":50,"e":51,"v":0.82},{"c":2,"d":3,"r":51,"e":52,"v":0.95},{"c":2,"d":3,"r":52,"e":53,"v":0.85},{"c":2,"d":3,"r":53,"e":55,"v":1.05},{"c":2,"d":3,"r":55,"e":60,"v":1.18},{"c":2,"d":3,"r":60,"e":62,"v":1.15},{"c":2,"d":3,"r":62,"e":64,"v":1.03},{"c":2,"d":3,"r":64,"e":68,"v":1.05},{"c":2,"d":3,"r":68,"e":72,"v":0.72},{"c":2,"d":3,"r":72,"e":76,"v":0.88},{"c":2,"d":3,"r":76,"e":79,"v":0.85},{"c":2,"d":3,"r":79,"e":81,"v":0.72},{"c":2,"d":3,"r":81,"e":85,"v":0.75},{"c":2,"d":3,"r":85,"e":90,"v":1.18},{"c":2,"d":3,"r":90,"e":92,"v":1.08},{"c":2,"d":3,"r":92,"e":95,"v":1.05},{"c":2,"d":3,"r":95,"e":96,"v":0.9},{"c":2,"d":3,"r":96,"e":100,"v":1.18},{"c":3,"d":4,"r":50,"e":52,"v":0.9},{"c":3,"d":4,"r":52,"e":54,"v":1.05},{"c":3,"d":4,"r":54,"e":55,"v":1.0},{"c":3,"d":4,"r":55,"e":58,"v":0.8},{"c":3,"d":4,"r":58,"e":59,"v":0.62},{"c":3,"d":4,"r":59,"e":60,"v":0.85},{"c":3,"d":4,"r":60,"e":62,"v":0.7},{"c":3,"d":4,"r":62,"e":64,"v":0.92},{"c":3,"d":4,"r":64,"e":65,"v":0.85},{"c":3,"d":4,"r":65,"e":68,"v":0.88},{"c":3,"d":4,"r":68,"e":71,"v":1.2},{"c":3,"d":4,"r":71,"e":72,"v":1.05},{"c":3,"d":4,"r":72,"e":74,"v":1.0},{"c":3,"d":4,"r":74,"e":76,"v":1.15},{"c":3,"d":4,"r":76,"e":78,"v":1.05},{"c":3,"d":4,"r":78,"e":85,"v":1.18},{"c":3,"d":4,"r":85,"e":87,"v":0.6},{"c":3,"d":4,"r":87,"e":90,"v":0.8},{"c":3,"d":4,"r":90,"e":91,"v":0.85},{"c":3,"d":4,"r":91,"e":92,"v":0.7},{"c":3,"d":4,"r":92,"e":94,"v":0.85},{"c":3,"d":4,"r":94,"e":95,"v":0.75},{"c":3,"d":4,"r":95,"e":96,"v":1.0},{"c":3,"d":4,"r":96,"e":97,"v":0.9},{"c":3,"d":4,"r":97,"e":98,"v":0.7},{"c":3,"d":4,"r":98,"e":100,"v":0.6},{"c":4,"d":5,"r":50,"e":52,"v":-0.58},{"c":4,"d":5,"r":52,"e":53,"v":-1.05},{"c":4,"d":5,"r":53,"e":54,"v":-0.85},{"c":4,"d":5,"r":54,"e":55,"v":-0.8},{"c":4,"d":5,"r":55,"e":56,"v":-0.85},{"c":4,"d":5,"r":56,"e":58,"v":-0.78},{"c":4,"d":5,"r":58,"e":59,"v":-1.1},{"c":4,"d":5,"r":59,"e":60,"v":-1.15},{"c":4,"d":5,"r":60,"e":61,"v":-1.05},{"c":4,"d":5,"r":61,"e":62,"v":-0.65},{"c":4,"d":5,"r":62,"e":63,"v":-1.05},{"c":4,"d":5,"r":63,"e":64,"v":-0.85},{"c":4,"d":5,"r":64,"e":66,"v":-0.95},{"c":4,"d":5,"r":66,"e":68,"v":-1.15},{"c":4,"d":5,"r":68,"e":69,"v":-0.92},{"c":4,"d":5,"r":69,"e":70,"v":-1.05},{"c":4,"d":5,"r":70,"e":71,"v":-1.15},{"c":4,"d":5,"r":71,"e":72,"v":-1.28},{"c":4,"d":5,"r":72,"e":74,"v":-1.1},{"c":4,"d":5,"r":74,"e":80,"v":-1.2},{"c":4,"d":5,"r":80,"e":85,"v":-1.25},{"c":4,"d":5,"r":85,"e":87,"v":-1.05},{"c":4,"d":5,"r":87,"e":89,"v":-1.25},{"c":4,"d":5,"r":89,"e":91,"v":-1.2},{"c":4,"d":5,"r":91,"e":92,"v":-0.98},{"c":4,"d":5,"r":92,"e":95,"v":-1.15},{"c":4,"d":5,"r":95,"e":97,"v":-1.35},{"c":4,"d":5,"r":97,"e":100,"v":-1.3},{"c":5,"d":6,"r":50,"e":52,"v":-1.3},{"c":5,"d":6,"r":52,"e":53,"v":-1.15},{"c":5,"d":6,"r":53,"e":54,"v":-0.9},{"c":5,"d":6,"r":54,"e":55,"v":-1.35},{"c":5,"d":6,"r":55,"e":59,"v":-1.2},{"c":5,"d":6,"r":59,"e":60,"v":-1.1},{"c":5,"d":6,"r":60,"e":62,"v":-1.15},{"c":5,"d":6,"r":62,"e":63,"v":-1.1},{"c":5,"d":6,"r":63,"e":68,"v":-1.15},{"c":5,"d":6,"r":68,"e":70,"v":-0.88},{"c":5,"d":6,"r":70,"e":74,"v":-0.9},{"c":5,"d":6,"r":74,"e":76,"v":-0.82},{"c":5,"d":6,"r":76,"e":77,"v":-0.55},{"c":5,"d":6,"r":77,"e":80,"v":-0.85},{"c":5,"d":6,"r":80,"e":85,"v":-0.78},{"c":5,"d":6,"r":85,"e":86,"v":-0.85},{"c":5,"d":6,"r":86,"e":87,"v":-0.72},{"c":5,"d":6,"r":87,"e":89,"v":-1.05},{"c":5,"d":6,"r":89,"e":90,"v":-1.0},{"c":5,"d":6,"r":90,"e":95,"v":-1.05},{"c":5,"d":6,"r":95,"e":97,"v":-0.65},{"c":5,"d":6,"r":97,"e":98,"v":-0.85},{"c":5,"d":6,"r":98,"e":99,"v":-0.6},{"c":5,"d":6,"r":99,"e":100,"v":-0.8},{"c":6,"d":7,"r":50,"e":52,"v":-1.2},{"c":6,"d":7,"r":52,"e":53,"v":-0.72},{"c":6,"d":7,"r":53,"e":54,"v":-1.1},{"c":6,"d":7,"r":54,"e":55,"v":-0.85},{"c":6,"d":7,"r":55,"e":58,"v":-1.0},{"c":6,"d":7,"r":58,"e":59,"v":-1.1},{"c":6,"d":7,"r":59,"e":61,"v":-0.72},{"c":6,"d":7,"r":61,"e":62,"v":-1.15},{"c":6,"d":7,"r":62,"e":64,"v":-1.05},{"c":6,"d":7,"r":64,"e":66,"v":-1.15},{"c":6,"d":7,"r":66,"e":68,"v":-1.0},{"c":6,"d":7,"r":68,"e":70,"v":-1.25},{"c":6,"d":7,"r":70,"e":71,"v":-0.95},{"c":6,"d":7,"r":71,"e":74,"v":-1.1},{"c":6,"d":7,"r":74,"e":75,"v":-0.95},{"c":6,"d":7,"r":75,"e":76,"v":-1.1},{"c":6,"d":7,"r":76,"e":78,"v":-1.2},{"c":6,"d":7,"r":78,"e":80,"v":-1.1},{"c":6,"d":7,"r":80,"e":85,"v":-1.22},{"c":6,"d":7,"r":85,"e":87,"v":-0.58},{"c":6,"d":7,"r":87,"e":88,"v":-0.75},{"c":6,"d":7,"r":88,"e":89,"v":-0.95},{"c":6,"d":7,"r":89,"e":91,"v":-0.82},{"c":6,"d":7,"r":91,"e":92,"v":-0.9},{"c":6,"d":7,"r":92,"e":94,"v":-0.85},{"c":6,"d":7,"r":94,"e":95,"v":-0.78},{"c":6,"d":7,"r":95,"e":96,"v":-0.6},{"c":6,"d":7,"r":96,"e":97,"v":-0.72},{"c":6,"d":7,"r":97,"e":99,"v":-0.58},{"c":6,"d":7,"r":99,"e":100,"v":-0.45},{"c":7,"d":8,"r":50,"e":51,"v":-0.85},{"c":7,"d":8,"r":51,"e":52,"v":-1.05},{"c":7,"d":8,"r":52,"e":54,"v":-1.15},{"c":7,"d":8,"r":54,"e":56,"v":-1.05},{"c":7,"d":8,"r":56,"e":58,"v":-1.1},{"c":7,"d":8,"r":58,"e":59,"v":-0.85},{"c":7,"d":8,"r":59,"e":62,"v":-1.15},{"c":7,"d":8,"r":62,"e":64,"v":-1.05},{"c":7,"d":8,"r":64,"e":65,"v":-0.82},{"c":7,"d":8,"r":65,"e":66,"v":-1.05},{"c":7,"d":8,"r":66,"e":68,"v":-0.95},{"c":7,"d":8,"r":68,"e":69,"v":-0.62},{"c":7,"d":8,"r":69,"e":72,"v":-0.8},{"c":7,"d":8,"r":72,"e":75,"v":-1.05},{"c":7,"d":8,"r":75,"e":77,"v":-1.12},{"c":7,"d":8,"r":77,"e":83,"v":-0.92},{"c":7,"d":8,"r":83,"e":85,"v":-1.05},{"c":7,"d":8,"r":85,"e":87,"v":-1.3},{"c":7,"d":8,"r":87,"e":89,"v":-0.92},{"c":7,"d":8,"r":89,"e":91,"v":-1.1},{"c":7,"d":8,"r":91,"e":92,"v":-1.12},{"c":7,"d":8,"r":92,"e":95,"v":-1.2},{"c":7,"d":8,"r":95,"e":96,"v":-0.95},{"c":7,"d":8,"r":96,"e":100,"v":-1.15}]},"vconcat":[{"width":388,"height":781,"resolve":{"scale":{"color":"shared"}},"layer":[{"data":{"values":[{"x":-1},{"x":1}]},"mark":{"type":"rule","color":"#cbcbcb","strokeWidth":1.8},"encoding":{"x":{"field":"x","type":"quantitative","title":"Log2 Fold Change","scale":{"domain":[-3.87,3.85],"nice":false,"zero":false},"axis":{"values":[-2,0,2],"grid":false,"domain":false,"tickColor":"#333333","tickSize":4,"labelColor":"#4d4d4d","labelFontSize":15,"labelPadding":3,"titleFontSize":19.6,"titleFontWeight":"normal","titleColor":"#111111","titlePadding":28,"format":"d"}}}},{"data":{"values":[{"y":1.3}]},"mark":{"type":"rule","color":"#cbcbcb","strokeWidth":1.5},"encoding":{"y":{"field":"y","type":"quantitative","title":"−log10 FDR","scale":{"domain":[-0.355,7.34],"nice":false,"zero":false},"axis":{"values":[0,2,4,6],"grid":false,"domain":false,"tickColor":"#333333","tickSize":4,"labelColor":"#4d4d4d","labelFontSize":15,"labelPadding":3,"titleFontSize":17,"titleFontWeight":"normal","titleColor":"#111111","titlePadding":28,"format":"d"}}}},{"data":{"name":"core"},"mark":{"type":"area","orient":"horizontal","color":"#2bb24b"},"encoding":{"y":{"field":"y","type":"quantitative"},"x":{"field":"a","type":"quantitative"},"x2":{"field":"b"}}},{"data":{"name":"core"},"mark":{"type":"area","orient":"horizontal","color":"#2bb24b"},"encoding":{"y":{"field":"y","type":"quantitative"},"x":{"field":"c","type":"quantitative"},"x2":{"field":"d"}}},{"data":{"name":"green"},"mark":{"type":"circle","size":32,"opacity":0.6},"encoding":{"x":{"field":"x","type":"quantitative"},"y":{"field":"y","type":"quantitative"},"color":{"datum":"None","type":"nominal","scale":{"domain":["Down","None","Up"],"range":["#f8766d","#2bb24b","#6f94dc"]},"legend":{"title":null,"orient":"none","legendX":425,"legendY":366,"labelFontSize":15.4,"labelColor":"#111111","symbolSize":32,"symbolOpacity":0.6,"rowPadding":14,"labelOffset":18}}}},{"data":{"name":"red"},"mark":{"type":"circle","size":32,"opacity":0.6},"encoding":{"x":{"field":"x","type":"quantitative"},"y":{"field":"y","type":"quantitative"},"color":{"datum":"Down","type":"nominal"}}},{"data":{"name":"blue"},"mark":{"type":"circle","size":32,"opacity":0.6},"encoding":{"x":{"field":"x","type":"quantitative"},"y":{"field":"y","type":"quantitative"},"color":{"datum":"Up","type":"nominal"}}},{"data":{"values":[{"x":-1.54,"y":6.35,"u":-1.57,"w":5.51},{"x":-1.22,"y":5.97,"u":-1.51,"w":5.51},{"x":-1.88,"y":4.86,"u":-1.67,"w":5.43},{"x":-1.48,"y":4.86,"u":-1.57,"w":5.29},{"x":2.88,"y":7.04,"u":3.05,"w":6.67},{"x":0.75,"y":7.05,"u":2.38,"w":6.57},{"x":2.225,"y":6.75,"u":2.56,"w":6.6},{"x":2.68,"y":6.41,"u":2.56,"w":6.6},{"x":1.18,"y":6.39,"u":2.27,"w":6.55},{"x":3.15,"y":5.83,"u":3.21,"w":6.58},{"x":2.29,"y":6.24,"u":2.54,"w":6.06},{"x":1.71,"y":5.89,"u":1.99,"w":6.06},{"x":1.93,"y":5.51,"u":2.14,"w":6.06},{"x":2.91,"y":5.46,"u":2.68,"w":5.94}]},"mark":{"type":"rule","color":"#000000","strokeWidth":1.8},"encoding":{"x":{"field":"x","type":"quantitative"},"y":{"field":"y","type":"quantitative"},"x2":{"field":"u"},"y2":{"field":"w"}}},{"data":{"values":[{"x":-0.84,"y":6.34,"t":"RNASE1"},{"x":-2.5,"y":5.98,"t":"LOC100133131"},{"x":-0.35,"y":5.98,"t":"HLA−DRB4"},{"x":-3.15,"y":5.57,"t":"MSMP"},{"x":-2.14,"y":5.61,"t":"APOD"},{"x":-0.87,"y":5.61,"t":"VIT"},{"x":-2.08,"y":5.21,"t":"RCAN2"},{"x":-0.39,"y":5.21,"t":"TYROBP"},{"x":-2.48,"y":4.85,"t":"DACT1"},{"x":-0.98,"y":4.85,"t":"GTSH"}]},"mark":{"type":"text","fontSize":16,"color":"#fb7a72","baseline":"middle"},"encoding":{"x":{"field":"x","type":"quantitative"},"y":{"field":"y","type":"quantitative"},"text":{"field":"t"}}},{"data":{"values":[{"x":0.09,"y":7.04,"t":"LRRC15"},{"x":2.86,"y":7.12,"t":"C10orf105"},{"x":1.64,"y":6.75,"t":"ARL4C"},{"x":0.8,"y":6.38,"t":"IL11"},{"x":3.18,"y":6.37,"t":"EGR2"},{"x":1.92,"y":6.25,"t":"FAP"},{"x":1.11,"y":5.87,"t":"VEGFC"},{"x":3.16,"y":5.74,"t":"AMTN"},{"x":1.39,"y":5.5,"t":"FZD10"},{"x":2.92,"y":5.38,"t":"MMP13"}]},"mark":{"type":"text","fontSize":16,"color":"#6e96dc","baseline":"middle"},"encoding":{"x":{"field":"x","type":"quantitative"},"y":{"field":"y","type":"quantitative"},"text":{"field":"t"}}},{"data":{"values":[{"x":-4.97,"y":7.78,"t":"A"}]},"mark":{"type":"text","fontSize":28,"fontWeight":"bold","color":"#000000","baseline":"middle"},"encoding":{"x":{"field":"x","type":"quantitative"},"y":{"field":"y","type":"quantitative"},"text":{"field":"t"}}},{"data":{"values":[{"x":0,"y":7.8,"t":"Volcano plot"}]},"mark":{"type":"text","fontSize":22,"color":"#111111","baseline":"middle"},"encoding":{"x":{"field":"x","type":"quantitative"},"y":{"field":"y","type":"quantitative"},"text":{"field":"t"}}},{"data":{"values":[{"x":-3.87,"y":-0.355,"u":3.85,"w":-0.355},{"x":-3.87,"y":7.34,"u":3.85,"w":7.34},{"x":-3.87,"y":-0.355,"u":-3.87,"w":7.34},{"x":3.85,"y":-0.355,"u":3.85,"w":7.34}]},"mark":{"type":"rule","color":"#333333","strokeWidth":1.3},"encoding":{"x":{"field":"x","type":"quantitative"},"y":{"field":"y","type":"quantitative"},"x2":{"field":"u"},"y2":{"field":"w"}}}]},{"width":456,"height":458,"resolve":{"scale":{"color":"independent"},"legend":{"color":"independent"}},"layer":[{"data":{"name":"heat"},"mark":{"type":"rect","strokeWidth":0.7},"encoding":{"x":{"field":"c","type":"quantitative","axis":null,"scale":{"domain":[0.0175,8],"nice":false,"zero":false}},"x2":{"field":"d"},"y":{"field":"r","type":"quantitative","axis":null,"scale":{"domain":[100,0],"nice":false,"zero":false}},"y2":{"field":"e"},"stroke":{"field":"v","type":"quantitative","legend":null,"scale":{"type":"linear","domain":[-1.37,-1.15,-1,-0.75,-0.5,-0.25,0,0.25,0.5,0.75,1,1.21],"range":["#6abd45","#2fb34a","#16a84b","#0d7f41","#1a5c32","#0e2d1a","#000000","#3a0a0c","#6a0d10","#a01a1e","#cc2026","#ed1c24"],"interpolate":"rgb"}},"color":{"field":"v","type":"quantitative","scale":{"type":"linear","domain":[-1.37,-1.15,-1,-0.75,-0.5,-0.25,0,0.25,0.5,0.75,1,1.21],"range":["#6abd45","#2fb34a","#16a84b","#0d7f41","#1a5c32","#0e2d1a","#000000","#3a0a0c","#6a0d10","#a01a1e","#cc2026","#ed1c24"],"interpolate":"rgb"},"legend":{"title":null,"orient":"none","legendX":467,"legendY":1,"gradientLength":342,"gradientThickness":23,"values":[-1,-0.5,0,0.5,1],"format":"~g","labelFontSize":20,"labelColor":"#111111","labelOffset":10,"labelOverlap":false,"tickCount":5}}}},{"data":{"values":[{"c":0,"d":4,"r":-5.9,"e":-1.3,"g":"Control"},{"c":4,"d":8,"r":-5.9,"e":-1.3,"g":"ONFH"}]},"mark":{"type":"rect"},"encoding":{"x":{"field":"c","type":"quantitative"},"x2":{"field":"d"},"y":{"field":"r","type":"quantitative"},"y2":{"field":"e"},"color":{"field":"g","type":"nominal","scale":{"domain":["Control","ONFH"],"range":["#4bc5d2","#f9918c"]},"legend":{"title":"Dataset","orient":"none","legendX":548,"legendY":-2,"titleFontSize":21,"titleFontWeight":"normal","titleColor":"#111111","titlePadding":4,"labelFontSize":20,"labelColor":"#111111","symbolType":"square","symbolSize":900,"symbolStrokeWidth":0,"symbolOpacity":1,"rowPadding":0,"labelOffset":6}}}},{"data":{"values":[{"y":7.64,"x":-0.963,"u":-0.152},{"y":68.8,"x":-0.963,"u":-0.19},{"y":55,"x":-0.19,"u":-0.155},{"y":92,"x":-0.19,"u":-0.155},{"y":0.5,"x":-0.09,"u":0},{"y":2,"x":-0.125,"u":0},{"y":4,"x":-0.09,"u":0},{"y":5.5,"x":-0.125,"u":0},{"y":7,"x":-0.125,"u":0},{"y":9,"x":-0.06,"u":0},{"y":11,"x":-0.06,"u":0},{"y":13,"x":-0.09,"u":0},{"y":15,"x":-0.06,"u":0},{"y":17,"x":-0.06,"u":0},{"y":19,"x":-0.09,"u":0},{"y":21,"x":-0.06,"u":0},{"y":22.5,"x":-0.09,"u":0},{"y":24,"x":-0.06,"u":0},{"y":26,"x":-0.06,"u":0},{"y":28,"x":-0.09,"u":0},{"y":30,"x":-0.06,"u":0},{"y":31.5,"x":-0.09,"u":0},{"y":33,"x":-0.06,"u":0},{"y":35,"x":-0.06,"u":0},{"y":37,"x":-0.06,"u":0},{"y":39,"x":-0.09,"u":0},{"y":41,"x":-0.06,"u":0},{"y":43,"x":-0.06,"u":0},{"y":45,"x":-0.09,"u":0},{"y":47,"x":-0.06,"u":0},{"y":49,"x":-0.06,"u":0},{"y":50.5,"x":-0.12,"u":0},{"y":52,"x":-0.155,"u":0},{"y":54,"x":-0.08,"u":0},{"y":56,"x":-0.12,"u":0},{"y":58,"x":-0.08,"u":0},{"y":60,"x":-0.08,"u":0},{"y":62,"x":-0.155,"u":0},{"y":64,"x":-0.08,"u":0},{"y":66,"x":-0.12,"u":0},{"y":68.5,"x":-0.08,"u":0},{"y":70,"x":-0.12,"u":0},{"y":72,"x":-0.155,"u":0},{"y":74,"x":-0.08,"u":0},{"y":76,"x":-0.08,"u":0},{"y":78,"x":-0.08,"u":0},{"y":80,"x":-0.12,"u":0},{"y":82,"x":-0.155,"u":0},{"y":84.5,"x":-0.08,"u":0},{"y":85.5,"x":-0.08,"u":0},{"y":87,"x":-0.12,"u":0},{"y":89,"x":-0.08,"u":0},{"y":91,"x":-0.08,"u":0},{"y":93,"x":-0.08,"u":0},{"y":95,"x":-0.12,"u":0},{"y":96.5,"x":-0.155,"u":0},{"y":98,"x":-0.08,"u":0},{"y":99.5,"x":-0.08,"u":0}]},"mark":{"type":"rule","color":"#111111","strokeWidth":1.3},"encoding":{"x":{"field":"x","type":"quantitative"},"x2":{"field":"u"},"y":{"field":"y","type":"quantitative"}}},{"data":{"values":[{"x":-0.963,"y":7.64,"w":68.8},{"x":-0.152,"y":2,"w":13},{"x":-0.125,"y":0.5,"w":5},{"x":-0.125,"y":7,"w":22},{"x":-0.09,"y":0,"w":4},{"x":-0.09,"y":6,"w":20},{"x":-0.09,"y":22,"w":30},{"x":-0.09,"y":31,"w":46},{"x":-0.06,"y":8,"w":22},{"x":-0.06,"y":23,"w":30},{"x":-0.06,"y":33,"w":49},{"x":-0.19,"y":55,"w":92},{"x":-0.155,"y":52,"w":62},{"x":-0.155,"y":72,"w":82},{"x":-0.155,"y":86,"w":97},{"x":-0.12,"y":51,"w":53},{"x":-0.12,"y":55,"w":66},{"x":-0.12,"y":69,"w":84},{"x":-0.12,"y":87,"w":96},{"x":-0.12,"y":95,"w":99.5},{"x":-0.08,"y":50,"w":52},{"x":-0.08,"y":54,"w":60},{"x":-0.08,"y":61,"w":67},{"x":-0.08,"y":68.5,"w":76},{"x":-0.08,"y":77,"w":84.5},{"x":-0.08,"y":85.5,"w":90},{"x":-0.08,"y":91,"w":95},{"x":-0.08,"y":96,"w":99.5}]},"mark":{"type":"rule","color":"#111111","strokeWidth":1.3},"encoding":{"x":{"field":"x","type":"quantitative"},"y":{"field":"y","type":"quantitative"},"y2":{"field":"w"}}},{"data":{"values":[{"x":-0.945,"y":-12.66,"t":"B"}]},"mark":{"type":"text","fontSize":28,"fontWeight":"bold","color":"#000000","baseline":"middle"},"encoding":{"x":{"field":"x","type":"quantitative"},"y":{"field":"y","type":"quantitative"},"text":{"field":"t"}}},{"data":{"values":[{"x":8.12,"y":-3.5,"t":"Dataset"}]},"mark":{"type":"text","fontSize":21,"align":"left","color":"#111111","baseline":"middle"},"encoding":{"x":{"field":"x","type":"quantitative"},"y":{"field":"y","type":"quantitative"},"text":{"field":"t"}}}]}]}
